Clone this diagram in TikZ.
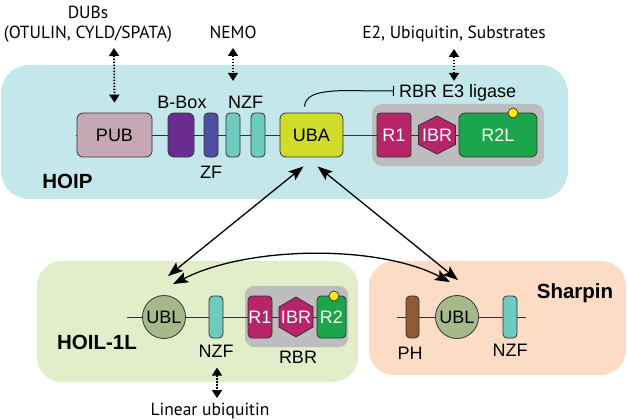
\documentclass[tikz,border=0pt]{standalone}
\usepackage{fontspec}
\setmainfont{Liberation Sans}
\newfontfamily\myr{PT Sans}
\usetikzlibrary{arrows.meta,shapes.geometric}
\definecolor{hoipbg}{HTML}{C3E7EA}
\definecolor{hoilbg}{HTML}{E2EDC9}
\definecolor{sharbg}{HTML}{FCDCC4}
\definecolor{rbrgray}{HTML}{BDBDBF}
\definecolor{pubc}{HTML}{C6A8B4}
\definecolor{bboxc}{HTML}{6A2D8F}
\definecolor{zfc}{HTML}{4E4FA1}
\definecolor{nzfc}{HTML}{6DCBBF}
\definecolor{ubac}{HTML}{CFDC2A}
\definecolor{magc}{HTML}{B8246A}
\definecolor{grnc}{HTML}{1BA64B}
\definecolor{dotc}{HTML}{FFE816}
\definecolor{ublc}{HTML}{A6B98B}
\definecolor{phc}{HTML}{8D5B35}
\definecolor{edge}{HTML}{333333}
\tikzset{
  dom/.style={draw=edge,line width=0.8pt,inner sep=0pt,rounded corners=#1,font=\fontsize{18}{18}\selectfont,text height=12.9pt,text depth=0pt},
  dom/.default=5pt,
  lbl/.style={inner sep=0pt,font=\fontsize{18}{18}\selectfont,text height=12.9pt,text depth=0pt},
  blbl/.style={inner sep=0pt,font=\fontsize{20.5}{20.5}\selectfont\bfseries,text height=14.7pt,text depth=0pt},
  mlbl/.style={inner sep=0pt,font=\fontsize{17.5}{17.5}\selectfont\myr,text height=12.2pt,text depth=0pt},
  bb/.style={line width=0.9pt,draw=edge},
  dotarrow/.style={line width=1.8pt,dash pattern=on 1.5pt off 1.5pt,{Triangle[length=8pt,width=10pt]}-{Triangle[length=8pt,width=10pt]}},
  biarrow/.style={line width=1.3pt,{Stealth[length=15pt,width=11pt,inset=3pt]}-{Stealth[length=15pt,width=11pt,inset=3pt]}},
  hexa/.style={draw=edge,line width=0.8pt,fill=magc}
}
\begin{document}
\begin{tikzpicture}[x=1pt,y=-1pt]
\useasboundingbox (0,0) rectangle (627,420);
% background boxes
\node[fill=hoipbg,rounded corners=28pt,minimum width=567pt,minimum height=134pt,inner sep=0pt] (hoip) at (284.5,132) {};
\node[fill=hoilbg,rounded corners=25pt,minimum width=321pt,minimum height=121pt,inner sep=0pt] (hoil) at (197.5,321.5) {};
\node[fill=sharbg,rounded corners=25pt,minimum width=257pt,minimum height=114pt,inner sep=0pt] (shar) at (497.5,318) {};
% gray RBR boxes
\node[fill=rbrgray,rounded corners=10pt,minimum width=172pt,minimum height=62pt,inner sep=0pt] (rbr1) at (458,135) {};
\node[fill=rbrgray,rounded corners=9pt,minimum width=103pt,minimum height=61pt,inner sep=0pt] (rbr2) at (296.5,316.5) {};
% backbones
\coordinate (h0) at (76,135);
\coordinate (h1) at (470,135);
\draw[bb] (h0) -- (h1);
\coordinate (l0) at (127,317);
\coordinate (l1) at (325,317);
\draw[bb] (l0) -- (l1);
\coordinate (s0) at (397,317);
\coordinate (s1) at (526,317);
\draw[bb] (s0) -- (s1);
% HOIP domains
\node[dom=6pt,fill=pubc,minimum width=75pt,minimum height=44pt] (pub) at (114.5,135) {PUB};
\node[dom=6pt,fill=bboxc,minimum width=26pt,minimum height=44pt] (bbox) at (181,135) {};
\node[dom=4pt,fill=zfc,minimum width=14pt,minimum height=44pt] (zf) at (211,135) {};
\node[dom=4pt,fill=nzfc,minimum width=14pt,minimum height=44pt] (nzfa) at (233,135) {};
\node[dom=4pt,fill=nzfc,minimum width=14pt,minimum height=44pt] (nzfb) at (258,135) {};
\node[dom=6pt,fill=ubac,minimum width=63pt,minimum height=44pt] (uba) at (311.5,135) {UBA};
\node[dom=3pt,fill=magc,minimum width=34pt,minimum height=44pt,text=white] (r1a) at (394,135) {R1};
\draw[hexa] (437,116) -- (455.5,125.5) -- (455.5,144.5) -- (437,154) -- (418.5,144.5) -- (418.5,125.5) -- cycle;
\node[lbl,text=white] (ibra) at (437,135) {IBR};
\node[dom=6pt,fill=grnc,minimum width=78pt,minimum height=44pt,text=white] (r2l) at (498,135) {R2L};
\node[circle,draw=edge,line width=0.7pt,fill=dotc,minimum size=10pt,inner sep=0pt] (dota) at (513,113) {};
% HOIP labels
\node[lbl] (lbbox) at (182,102) {B-Box};
\node[lbl] (lnzfa) at (245.5,102) {NZF};
\node[lbl] (lzf) at (211,172) {ZF};
\node[blbl] (lhoip) at (67.5,181) {HOIP};
\node[lbl,anchor=west] (le3) at (399,91) {RBR E3 ligase};
% HOIL domains
\node[circle,draw=edge,line width=0.8pt,fill=ublc,minimum size=43pt,inner sep=0pt,font=\fontsize{18}{18}\selectfont,text height=12.9pt,text depth=0pt] (ubla) at (164,317) {UBL};
\node[dom=4pt,fill=nzfc,minimum width=14pt,minimum height=42pt] (nzfl) at (216,317) {};
\node[dom=4pt,fill=magc,minimum width=24pt,minimum height=42pt,text=white] (r1b) at (260,317) {R1};
\draw[hexa] (296,297) -- (313,307) -- (313,327) -- (296,337) -- (279,327) -- (279,307) -- cycle;
\node[lbl,text=white] (ibrb) at (296,317) {IBR};
\node[dom=4pt,fill=grnc,minimum width=29pt,minimum height=42pt,text=white] (r2b) at (331.5,317) {R2};
\node[circle,draw=edge,line width=0.7pt,fill=dotc,minimum size=10pt,inner sep=0pt] (dotb) at (334,296) {};
\node[blbl] (lhoil) at (97,342) {HOIL-1L};
\node[lbl] (lnzfl) at (216,351) {NZF};
\node[lbl] (lrbr) at (298,357) {RBR};
% Sharpin domains
\node[dom=4pt,fill=phc,minimum width=13pt,minimum height=42pt] (ph) at (412.5,317) {};
\node[circle,draw=edge,line width=0.8pt,fill=ublc,minimum size=43pt,inner sep=0pt,font=\fontsize{18}{18}\selectfont,text height=12.9pt,text depth=0pt] (ublb) at (457,317) {UBL};
\node[dom=4pt,fill=nzfc,minimum width=14pt,minimum height=42pt] (nzfs) at (510,317) {};
\node[lbl] (lph) at (410,353) {PH};
\node[lbl] (lnzfs) at (510,350) {NZF};
\node[blbl] (lshar) at (575,291) {Sharpin};
% top texts
\node[mlbl] (tdubs) at (88,12) {DUBs};
\node[mlbl] (totulin) at (88,32) {(OTULIN, CYLD/SPATA)};
\node[mlbl] (tnemo) at (233,32) {NEMO};
\node[mlbl] (te2) at (454,32) {E2, Ubiquitin, Substrates};
\node[mlbl] (tlin) at (210,409) {Linear ubiquitin};
% dotted interaction arrows
\coordinate (dubtop) at (114,48);
\draw[dotarrow] (dubtop) -- ([yshift=10pt]pub.north);
\coordinate (nemotop) at (233,48);
\draw[dotarrow] (nemotop) -- ([yshift=14.5pt]lnzfa.north -| nemotop);
\coordinate (e2top) at (454,49);
\draw[dotarrow] (e2top) -- ([yshift=3.5pt]le3.north -| e2top);
\coordinate (linbot) at (217,398);
\draw[dotarrow] ([yshift=-10pt]lnzfl.south -| linbot) -- (linbot);
% inhibition connector
\draw[line width=1pt,-{Bar[width=10pt]}] ([xshift=-7pt,yshift=6pt]uba.north) .. controls ([xshift=-6pt,yshift=16pt]uba.north) and ([xshift=2pt,yshift=21pt]uba.north) .. ([xshift=30pt,yshift=22pt]uba.north) -- ([xshift=-5pt]le3.west);
% interaction arrows
\draw[biarrow] ([xshift=-8pt,yshift=-9pt]uba.south) -- ([xshift=4pt,yshift=19pt]ubla.north);
\draw[biarrow] ([xshift=6pt,yshift=-9pt]uba.south) -- ([xshift=1pt,yshift=15pt]ublb.north);
\draw[biarrow] ([xshift=9pt,yshift=11pt]ubla.north) .. controls (250,245) and (380,245) .. ([xshift=-7pt,yshift=13pt]ublb.north);
\end{tikzpicture}
\end{document}
